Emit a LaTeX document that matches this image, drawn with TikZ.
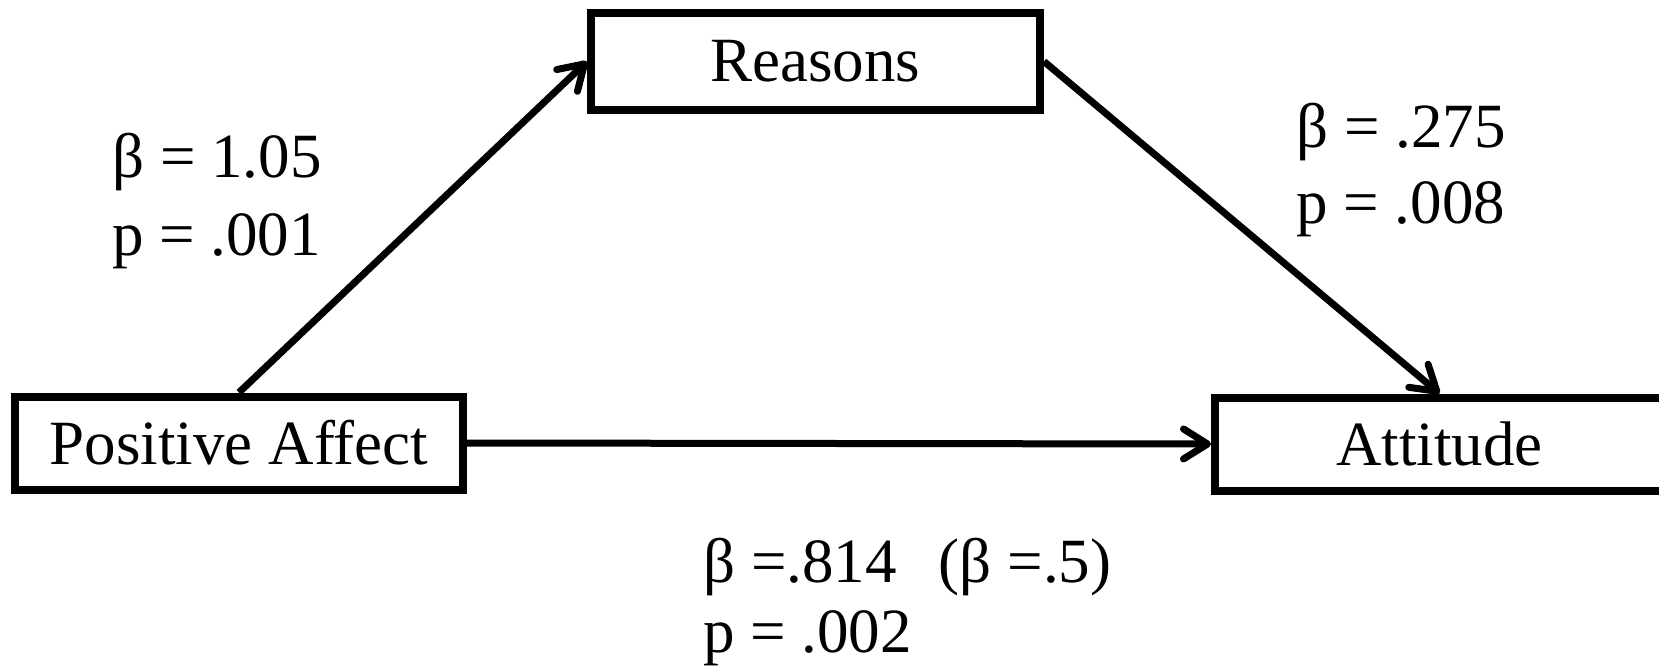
\documentclass[tikz,border=0pt]{standalone}
\usepackage{fontspec}
\setmainfont{Liberation Serif}
\usetikzlibrary{arrows.meta}
\tikzset{
  varbox/.style={draw=black, line width=8pt, inner sep=0pt, minimum width=449pt, minimum height=93pt, font=\fontsize{63}{76}\selectfont},
  path/.style={line width=7pt, -{Straight Barb[length=24pt,width=30pt,round]}},
  lbl/.style={anchor=base west, inner sep=0pt, font=\fontsize{63}{76}\selectfont}
}
\begin{document}
\begin{tikzpicture}[x=1pt,y=-1pt]
\useasboundingbox (0,0) rectangle (1659,671);
\node[varbox, minimum width=448pt] (pa) at (239,443) {Positive Affect};
\node[varbox, minimum height=97pt] (rs) at (815.5,61.5) {Reasons};
\node[varbox] (at) at (1439.5,444) {Attitude};
\draw[path] (pa.north) -- (rs.west);
\draw[path] (rs.east) -- (at.north);
\draw[path] (pa.east) -- (at.west);
\node[lbl] (b1) at (112,178) {β = 1.05};
\node[lbl] (p1) at (112,255) {p = .001};
\node[lbl] (b2) at (1296,148) {β = .275};
\node[lbl] (p2) at (1296,223) {p = .008};
\node[lbl] (b3) at (703,582) {β =.814\hspace{42pt}(β =.5)};
\node[lbl] (p3) at (703,652) {p = .002};
\end{tikzpicture}
\end{document}
